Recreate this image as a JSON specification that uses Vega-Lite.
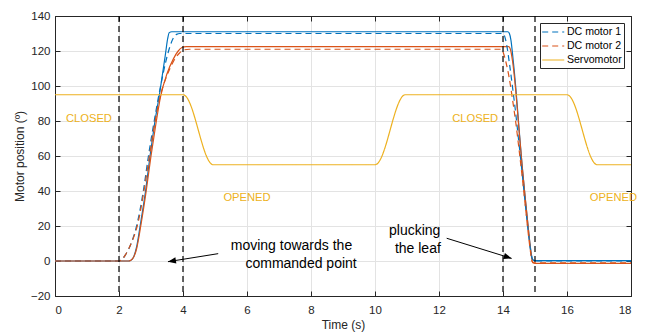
{
  "$schema": "https://vega.github.io/schema/vega-lite/v6.json",
  "width": 576,
  "height": 280,
  "autosize": {"type": "none"},
  "padding": {"left": 55, "top": 16, "right": 14, "bottom": 37},
  "background": "white",
  "config": {
    "font": "Liberation Sans",
    "view": {"stroke": "#262626", "strokeWidth": 1},
    "axis": {
      "domainColor": "#262626", "tickColor": "#262626", "labelColor": "#262626", "titleColor": "#262626",
      "labelFont": "Liberation Sans", "titleFont": "Liberation Sans",
      "labelFontSize": 11.5, "titleFontSize": 12, "titleFontWeight": "normal",
      "gridColor": "#e3e3e3", "gridWidth": 1, "tickSize": -5
    },
    "legend": {
      "orient": "none", "legendX": 485, "legendY": 7,
      "strokeColor": "#262626", "fillColor": "white", "padding": 1.5,
      "symbolType": "M-1,0L2.24,0", "symbolSize": 185, "symbolStrokeWidth": 1.2,
      "labelFont": "Liberation Sans", "labelFontSize": 10.6, "labelColor": "#000000",
      "rowPadding": 0, "labelOffset": 10.4, "title": null
    }
  },
  "datasets": {
    "lines": [
      {"t": 0, "v": 0, "s": "DC motor 1", "k": "measured"},
      {"t": 2.3, "v": 0, "s": "DC motor 1", "k": "measured"},
      {"t": 2.36, "v": 0.3, "s": "DC motor 1", "k": "measured"},
      {"t": 2.45, "v": 2, "s": "DC motor 1", "k": "measured"},
      {"t": 2.55, "v": 8, "s": "DC motor 1", "k": "measured"},
      {"t": 2.66, "v": 20, "s": "DC motor 1", "k": "measured"},
      {"t": 2.83, "v": 40, "s": "DC motor 1", "k": "measured"},
      {"t": 2.97, "v": 60, "s": "DC motor 1", "k": "measured"},
      {"t": 3.1, "v": 77, "s": "DC motor 1", "k": "measured"},
      {"t": 3.28, "v": 97, "s": "DC motor 1", "k": "measured"},
      {"t": 3.45, "v": 118, "s": "DC motor 1", "k": "measured"},
      {"t": 3.52, "v": 127, "s": "DC motor 1", "k": "measured"},
      {"t": 3.57, "v": 130.5, "s": "DC motor 1", "k": "measured"},
      {"t": 3.65, "v": 131, "s": "DC motor 1", "k": "measured"},
      {"t": 14.15, "v": 131, "s": "DC motor 1", "k": "measured"},
      {"t": 14.2, "v": 130, "s": "DC motor 1", "k": "measured"},
      {"t": 14.25, "v": 126, "s": "DC motor 1", "k": "measured"},
      {"t": 14.3, "v": 118, "s": "DC motor 1", "k": "measured"},
      {"t": 14.4, "v": 99, "s": "DC motor 1", "k": "measured"},
      {"t": 14.5, "v": 76, "s": "DC motor 1", "k": "measured"},
      {"t": 14.6, "v": 54, "s": "DC motor 1", "k": "measured"},
      {"t": 14.7, "v": 35, "s": "DC motor 1", "k": "measured"},
      {"t": 14.8, "v": 17, "s": "DC motor 1", "k": "measured"},
      {"t": 14.87, "v": 6, "s": "DC motor 1", "k": "measured"},
      {"t": 14.92, "v": 1, "s": "DC motor 1", "k": "measured"},
      {"t": 15.0, "v": 0.2, "s": "DC motor 1", "k": "measured"},
      {"t": 18, "v": 0.2, "s": "DC motor 1", "k": "measured"},

      {"t": 0, "v": 0, "s": "DC motor 1", "k": "reference"},
      {"t": 2.0, "v": 0, "s": "DC motor 1", "k": "reference"},
      {"t": 2.1, "v": 1, "s": "DC motor 1", "k": "reference"},
      {"t": 2.2, "v": 3.5, "s": "DC motor 1", "k": "reference"},
      {"t": 2.4, "v": 11, "s": "DC motor 1", "k": "reference"},
      {"t": 2.55, "v": 20, "s": "DC motor 1", "k": "reference"},
      {"t": 2.76, "v": 40, "s": "DC motor 1", "k": "reference"},
      {"t": 2.92, "v": 60, "s": "DC motor 1", "k": "reference"},
      {"t": 3.1, "v": 80, "s": "DC motor 1", "k": "reference"},
      {"t": 3.3, "v": 100, "s": "DC motor 1", "k": "reference"},
      {"t": 3.49, "v": 116, "s": "DC motor 1", "k": "reference"},
      {"t": 3.6, "v": 123, "s": "DC motor 1", "k": "reference"},
      {"t": 3.7, "v": 127.5, "s": "DC motor 1", "k": "reference"},
      {"t": 3.8, "v": 129.5, "s": "DC motor 1", "k": "reference"},
      {"t": 3.9, "v": 130, "s": "DC motor 1", "k": "reference"},
      {"t": 14.0, "v": 130, "s": "DC motor 1", "k": "reference"},
      {"t": 14.05, "v": 128.5, "s": "DC motor 1", "k": "reference"},
      {"t": 14.12, "v": 123, "s": "DC motor 1", "k": "reference"},
      {"t": 14.2, "v": 113, "s": "DC motor 1", "k": "reference"},
      {"t": 14.3, "v": 99, "s": "DC motor 1", "k": "reference"},
      {"t": 14.4, "v": 84, "s": "DC motor 1", "k": "reference"},
      {"t": 14.5, "v": 67, "s": "DC motor 1", "k": "reference"},
      {"t": 14.6, "v": 50, "s": "DC motor 1", "k": "reference"},
      {"t": 14.7, "v": 32, "s": "DC motor 1", "k": "reference"},
      {"t": 14.8, "v": 15, "s": "DC motor 1", "k": "reference"},
      {"t": 14.87, "v": 5, "s": "DC motor 1", "k": "reference"},
      {"t": 14.92, "v": 1, "s": "DC motor 1", "k": "reference"},
      {"t": 15.0, "v": 0, "s": "DC motor 1", "k": "reference"},
      {"t": 18, "v": 0, "s": "DC motor 1", "k": "reference"},

      {"t": 0, "v": 0, "s": "DC motor 2", "k": "measured"},
      {"t": 2.3, "v": 0, "s": "DC motor 2", "k": "measured"},
      {"t": 2.36, "v": 0.3, "s": "DC motor 2", "k": "measured"},
      {"t": 2.45, "v": 2, "s": "DC motor 2", "k": "measured"},
      {"t": 2.55, "v": 7, "s": "DC motor 2", "k": "measured"},
      {"t": 2.68, "v": 20, "s": "DC motor 2", "k": "measured"},
      {"t": 2.85, "v": 40, "s": "DC motor 2", "k": "measured"},
      {"t": 3.0, "v": 60, "s": "DC motor 2", "k": "measured"},
      {"t": 3.15, "v": 78, "s": "DC motor 2", "k": "measured"},
      {"t": 3.3, "v": 94, "s": "DC motor 2", "k": "measured"},
      {"t": 3.5, "v": 107, "s": "DC motor 2", "k": "measured"},
      {"t": 3.7, "v": 115.5, "s": "DC motor 2", "k": "measured"},
      {"t": 3.85, "v": 120, "s": "DC motor 2", "k": "measured"},
      {"t": 3.97, "v": 122, "s": "DC motor 2", "k": "measured"},
      {"t": 4.1, "v": 122.5, "s": "DC motor 2", "k": "measured"},
      {"t": 14.18, "v": 122.5, "s": "DC motor 2", "k": "measured"},
      {"t": 14.23, "v": 121, "s": "DC motor 2", "k": "measured"},
      {"t": 14.3, "v": 114, "s": "DC motor 2", "k": "measured"},
      {"t": 14.4, "v": 97, "s": "DC motor 2", "k": "measured"},
      {"t": 14.5, "v": 75, "s": "DC motor 2", "k": "measured"},
      {"t": 14.6, "v": 54, "s": "DC motor 2", "k": "measured"},
      {"t": 14.7, "v": 35, "s": "DC motor 2", "k": "measured"},
      {"t": 14.8, "v": 17, "s": "DC motor 2", "k": "measured"},
      {"t": 14.87, "v": 5, "s": "DC motor 2", "k": "measured"},
      {"t": 14.93, "v": -1, "s": "DC motor 2", "k": "measured"},
      {"t": 15.0, "v": -1.3, "s": "DC motor 2", "k": "measured"},
      {"t": 18, "v": -1.3, "s": "DC motor 2", "k": "measured"},

      {"t": 0, "v": 0, "s": "DC motor 2", "k": "reference"},
      {"t": 2.0, "v": 0, "s": "DC motor 2", "k": "reference"},
      {"t": 2.1, "v": 1, "s": "DC motor 2", "k": "reference"},
      {"t": 2.2, "v": 3.5, "s": "DC motor 2", "k": "reference"},
      {"t": 2.4, "v": 11, "s": "DC motor 2", "k": "reference"},
      {"t": 2.57, "v": 20, "s": "DC motor 2", "k": "reference"},
      {"t": 2.78, "v": 40, "s": "DC motor 2", "k": "reference"},
      {"t": 2.95, "v": 60, "s": "DC motor 2", "k": "reference"},
      {"t": 3.12, "v": 79, "s": "DC motor 2", "k": "reference"},
      {"t": 3.3, "v": 95, "s": "DC motor 2", "k": "reference"},
      {"t": 3.5, "v": 106, "s": "DC motor 2", "k": "reference"},
      {"t": 3.7, "v": 114, "s": "DC motor 2", "k": "reference"},
      {"t": 3.9, "v": 119, "s": "DC motor 2", "k": "reference"},
      {"t": 4.05, "v": 120.7, "s": "DC motor 2", "k": "reference"},
      {"t": 4.2, "v": 121, "s": "DC motor 2", "k": "reference"},
      {"t": 13.95, "v": 121, "s": "DC motor 2", "k": "reference"},
      {"t": 14.0, "v": 119.5, "s": "DC motor 2", "k": "reference"},
      {"t": 14.1, "v": 113, "s": "DC motor 2", "k": "reference"},
      {"t": 14.2, "v": 104, "s": "DC motor 2", "k": "reference"},
      {"t": 14.3, "v": 92, "s": "DC motor 2", "k": "reference"},
      {"t": 14.4, "v": 79, "s": "DC motor 2", "k": "reference"},
      {"t": 14.5, "v": 64, "s": "DC motor 2", "k": "reference"},
      {"t": 14.6, "v": 48, "s": "DC motor 2", "k": "reference"},
      {"t": 14.7, "v": 31, "s": "DC motor 2", "k": "reference"},
      {"t": 14.8, "v": 14, "s": "DC motor 2", "k": "reference"},
      {"t": 14.87, "v": 4, "s": "DC motor 2", "k": "reference"},
      {"t": 14.92, "v": -0.5, "s": "DC motor 2", "k": "reference"},
      {"t": 15.0, "v": -1, "s": "DC motor 2", "k": "reference"},
      {"t": 18, "v": -1, "s": "DC motor 2", "k": "reference"},

      {"t": 0, "v": 95, "s": "Servomotor", "k": "measured"},
      {"t": 4.0, "v": 95, "s": "Servomotor", "k": "measured"},
      {"t": 4.095, "v": 94.02, "s": "Servomotor", "k": "measured"},
      {"t": 4.19, "v": 91.18, "s": "Servomotor", "k": "measured"},
      {"t": 4.285, "v": 86.76, "s": "Servomotor", "k": "measured"},
      {"t": 4.38, "v": 81.18, "s": "Servomotor", "k": "measured"},
      {"t": 4.475, "v": 75, "s": "Servomotor", "k": "measured"},
      {"t": 4.57, "v": 68.82, "s": "Servomotor", "k": "measured"},
      {"t": 4.665, "v": 63.24, "s": "Servomotor", "k": "measured"},
      {"t": 4.76, "v": 58.82, "s": "Servomotor", "k": "measured"},
      {"t": 4.855, "v": 55.98, "s": "Servomotor", "k": "measured"},
      {"t": 4.95, "v": 55, "s": "Servomotor", "k": "measured"},
      {"t": 10.0, "v": 55, "s": "Servomotor", "k": "measured"},
      {"t": 10.095, "v": 55.98, "s": "Servomotor", "k": "measured"},
      {"t": 10.19, "v": 58.82, "s": "Servomotor", "k": "measured"},
      {"t": 10.285, "v": 63.24, "s": "Servomotor", "k": "measured"},
      {"t": 10.38, "v": 68.82, "s": "Servomotor", "k": "measured"},
      {"t": 10.475, "v": 75, "s": "Servomotor", "k": "measured"},
      {"t": 10.57, "v": 81.18, "s": "Servomotor", "k": "measured"},
      {"t": 10.665, "v": 86.76, "s": "Servomotor", "k": "measured"},
      {"t": 10.76, "v": 91.18, "s": "Servomotor", "k": "measured"},
      {"t": 10.855, "v": 94.02, "s": "Servomotor", "k": "measured"},
      {"t": 10.95, "v": 95, "s": "Servomotor", "k": "measured"},
      {"t": 16.0, "v": 95, "s": "Servomotor", "k": "measured"},
      {"t": 16.095, "v": 94.02, "s": "Servomotor", "k": "measured"},
      {"t": 16.19, "v": 91.18, "s": "Servomotor", "k": "measured"},
      {"t": 16.285, "v": 86.76, "s": "Servomotor", "k": "measured"},
      {"t": 16.38, "v": 81.18, "s": "Servomotor", "k": "measured"},
      {"t": 16.475, "v": 75, "s": "Servomotor", "k": "measured"},
      {"t": 16.57, "v": 68.82, "s": "Servomotor", "k": "measured"},
      {"t": 16.665, "v": 63.24, "s": "Servomotor", "k": "measured"},
      {"t": 16.76, "v": 58.82, "s": "Servomotor", "k": "measured"},
      {"t": 16.855, "v": 55.98, "s": "Servomotor", "k": "measured"},
      {"t": 16.95, "v": 55, "s": "Servomotor", "k": "measured"},
      {"t": 18, "v": 55, "s": "Servomotor", "k": "measured"}
    ],
    "events": [{"t": 2}, {"t": 4}, {"t": 14}, {"t": 15}],
    "states": [
      {"label": "CLOSED", "t": 1.06, "v": 81},
      {"label": "OPENED", "t": 6.0, "v": 36},
      {"label": "CLOSED", "t": 13.13, "v": 81},
      {"label": "OPENED", "t": 17.45, "v": 36}
    ],
    "notes": [
      {"label": "moving towards the", "t": 7.39, "v": 8.6},
      {"label": "commanded point", "t": 7.69, "v": -1.7},
      {"label": "plucking", "t": 11.24, "v": 17.1},
      {"label": "the leaf", "t": 11.34, "v": 6.9}
    ],
    "arrows": [
      {"id": "a", "t1": 5.1, "v1": 4.2, "t2": 3.53, "v2": -0.4},
      {"id": "b", "t1": 12.24, "v1": 13.0, "t2": 14.27, "v2": 1.5}
    ]
  },
  "layer": [
    {
      "data": {"name": "lines"},
      "transform": [{"filter": "datum.k == 'measured' && datum.s != 'Servomotor'"}],
      "mark": {"type": "line", "strokeWidth": 1.2, "interpolate": "monotone"},
      "encoding": {
        "x": {"field": "t", "type": "quantitative", "scale": {"domain": [0, 18], "nice": false, "zero": false},
              "axis": {"orient": "top", "labels": false, "grid": false, "title": null, "values": [0,2,4,6,8,10,12,14,16,18]}},
        "y": {"field": "v", "type": "quantitative", "scale": {"domain": [-20, 140], "nice": false, "zero": false},
              "axis": {"orient": "right", "labels": false, "grid": false, "title": null, "values": [-20,0,20,40,60,80,100,120,140]}},
        "color": {"field": "s", "type": "nominal", "scale": {"domain": ["DC motor 1", "DC motor 2", "Servomotor"], "range": ["#0072BD", "#D95319", "#EDB120"]},
                  "legend": {"encode": {"symbols": {"update": {"strokeDash": {"signal": "datum.value === 'Servomotor' ? [1, 0] : [6, 4]"}}}}}},
        "detail": {"field": "k"}
      }
    },
    {
      "data": {"name": "lines"},
      "transform": [{"filter": "datum.k == 'reference' || datum.s == 'Servomotor'"}],
      "mark": {"type": "line", "strokeWidth": 1.2, "interpolate": "monotone"},
      "encoding": {
        "x": {"field": "t", "type": "quantitative",
              "axis": {"orient": "bottom", "title": "Time (s)", "grid": true, "values": [0,2,4,6,8,10,12,14,16,18], "labelPadding": 13, "titlePadding": 4}},
        "y": {"field": "v", "type": "quantitative",
              "axis": {"orient": "left", "title": "Motor position (º)", "grid": true, "values": [-20,0,20,40,60,80,100,120,140], "labelPadding": 10, "titlePadding": 4}},
        "color": {"field": "s", "type": "nominal"},
        "strokeDash": {"field": "s", "type": "nominal", "legend": null, "scale": {"domain": ["DC motor 1", "DC motor 2", "Servomotor"], "range": [[6, 4], [6, 4], [1, 0]]}}
      }
    },
    {
      "data": {"name": "events"},
      "mark": {"type": "rule", "color": "#000000", "strokeWidth": 1.2, "strokeDash": [6, 4]},
      "encoding": {"x": {"field": "t", "type": "quantitative", "axis": null}}
    },
    {
      "data": {"name": "states"},
      "mark": {"type": "text", "color": "#EDB120", "fontSize": 11.2, "font": "Liberation Sans", "align": "center", "baseline": "middle"},
      "encoding": {
        "x": {"field": "t", "type": "quantitative", "axis": null},
        "y": {"field": "v", "type": "quantitative", "axis": null},
        "text": {"field": "label"}
      }
    },
    {
      "data": {"name": "notes"},
      "mark": {"type": "text", "color": "#000000", "fontSize": 14, "font": "Liberation Sans", "align": "center", "baseline": "middle"},
      "encoding": {
        "x": {"field": "t", "type": "quantitative", "axis": null},
        "y": {"field": "v", "type": "quantitative", "axis": null},
        "text": {"field": "label"}
      }
    },
    {
      "data": {"name": "arrows"},
      "mark": {"type": "rule", "color": "#000000", "strokeWidth": 1},
      "encoding": {
        "x": {"field": "t1", "type": "quantitative", "axis": null},
        "y": {"field": "v1", "type": "quantitative", "axis": null},
        "x2": {"field": "t2"},
        "y2": {"field": "v2"}
      }
    },
    {
      "data": {"name": "arrows"},
      "transform": [{"filter": "datum.id == 'a'"}],
      "mark": {"type": "point", "shape": "M0,0L-1,-0.4L-1,0.4Z", "filled": true, "color": "#000000", "opacity": 1, "size": 256, "angle": 171},
      "encoding": {
        "x": {"field": "t2", "type": "quantitative", "axis": null},
        "y": {"field": "v2", "type": "quantitative", "axis": null}
      }
    },
    {
      "data": {"name": "arrows"},
      "transform": [{"filter": "datum.id == 'b'"}],
      "mark": {"type": "point", "shape": "M0,0L-1,-0.4L-1,0.4Z", "filled": true, "color": "#000000", "opacity": 1, "size": 256, "angle": 17},
      "encoding": {
        "x": {"field": "t2", "type": "quantitative", "axis": null},
        "y": {"field": "v2", "type": "quantitative", "axis": null}
      }
    }
  ],
  "resolve": {"axis": {"x": "independent", "y": "independent"}}
}
